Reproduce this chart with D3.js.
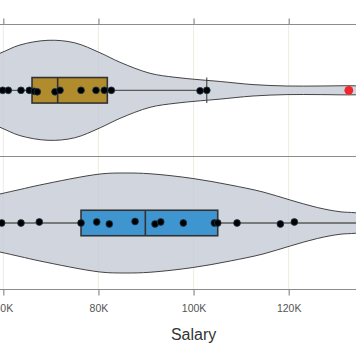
<!DOCTYPE html>
<html>
<head>
<meta charset="utf-8">
<script src="https://cdn.jsdelivr.net/npm/d3@7"></script>
<style>
html,body{margin:0;padding:0;background:#fff;}
svg{display:block;font-family:"Liberation Sans",Arial,sans-serif;}
</style>
</head>
<body>
<svg id="chart" width="356" height="364"></svg>
<script>
// ---- data ----
const groups = ["A", "B"];
const tickValues = [60000, 80000, 100000, 120000];
const tickLabels = ["60K", "80K", "100K", "120K"];
const xTitle = "Salary";

// salaries of individual people
const salariesA = [59870, 61050, 63720, 65470, 66520, 67150, 70870, 71920, 76340, 79490, 81240, 82710, 101370, 102780];
const jitterA   = [0, 0, 0, 0, 0.2, 0.3, 0.3, 0, 0, 0, 0, 0, 0.1, 0];
const outliersA = [132640];
const salariesB = [59660, 63720, 67570, 76340, 79640, 82290, 87700, 91900, 93100, 97850, 104370, 105080, 109140, 118250, 121190];
const jitterB   = [0, 0, -0.2, 0, -0.2, 0.2, -0.3, 0.2, -0.2, 0, 0, 0, 0, 0.2, -0.2];

// box statistics [lowerWhisker, q1, median, q3, upperWhisker]
const boxA = [52000, 66040, 71430, 81870, 102780];
const boxB = [52000, 76340, 89860, 105080, 140000];

// violin density profiles (salary, relative density)
const violinSalA = [40000, 48000, 54000, 59300, 63500, 69400, 75000, 80350, 84550, 90850, 96100, 101400, 105600, 112500, 119600, 126600, 134100, 140000, 146000];
const violinDenA = [0.0, 0.25, 0.55, 0.74, 0.906, 1.0, 0.95, 0.75, 0.56, 0.34, 0.26, 0.21, 0.176, 0.114, 0.086, 0.086, 0.09, 0.06, 0.0];
const violinSalB = [36000, 44000, 52000, 59300, 63500, 67700, 80350, 85600, 90850, 99900, 107700, 114600, 120300, 126000, 130800, 134100, 142000, 152000];
const violinDenB = [0.0, 0.2, 0.42, 0.58, 0.67, 0.76, 0.98, 1.0, 0.985, 0.89, 0.76, 0.62, 0.46, 0.31, 0.225, 0.205, 0.12, 0.0];

const boxColors = {A: "#b08c2c", B: "#3f95d0"};

// ---- chart ----
const svg = d3.select("#chart");
const yTop = 24.5, yBottom = 289.5, yMid = 156.5;

const x = d3.scaleLinear().domain([60000, 120000]).range([3.3, 288.7]);
const y = d3.scalePoint().domain(groups).range([90.3, 223]);
const w = d3.scaleLinear().domain([0, 1]).range([0, 50]);
const boxH = 25.5;

// gridlines
svg.append("g").selectAll("line").data(tickValues).join("line")
  .attr("x1", d => x(d)).attr("x2", d => x(d))
  .attr("y1", yTop).attr("y2", yBottom)
  .attr("stroke", "#ecece2").attr("stroke-width", 1);

const datasets = [
  {g: "A", sal: violinSalA, den: violinDenA, box: boxA, pts: salariesA, jit: jitterA, out: outliersA, cap: true},
  {g: "B", sal: violinSalB, den: violinDenB, box: boxB, pts: salariesB, jit: jitterB, out: [], cap: false}
];

datasets.forEach(ds => {
  const cy = y(ds.g);
  const prof = ds.sal.map((s, i) => [s, ds.den[i]]);
  const area = d3.area()
    .x(d => x(d[0]))
    .y0(d => cy - w(d[1]))
    .y1(d => cy + w(d[1]))
    .curve(d3.curveCatmullRom.alpha(0.5));
  svg.append("path").datum(prof)
    .attr("d", area)
    .attr("fill", "#c6cbd4").attr("fill-opacity", 0.8)
    .attr("stroke", "#444").attr("stroke-width", 1);

  const [lw, q1, med, q3, uw] = ds.box;
  // whiskers
  svg.append("line").attr("x1", x(lw)).attr("x2", x(q1)).attr("y1", cy).attr("y2", cy)
    .attr("stroke", "#5a5a5a").attr("stroke-width", 1.3);
  svg.append("line").attr("x1", x(q3)).attr("x2", x(uw)).attr("y1", cy).attr("y2", cy)
    .attr("stroke", "#5a5a5a").attr("stroke-width", 1.3);
  if (ds.cap) {
    [lw, uw].forEach(v => svg.append("line")
      .attr("x1", x(v)).attr("x2", x(v))
      .attr("y1", cy - boxH / 2).attr("y2", cy + boxH / 2)
      .attr("stroke", "#333").attr("stroke-width", 1));
  }
  // box
  svg.append("rect")
    .attr("x", x(q1)).attr("width", x(q3) - x(q1))
    .attr("y", cy - boxH / 2).attr("height", boxH)
    .attr("fill", boxColors[ds.g]).attr("stroke", "#333").attr("stroke-width", 1.6);
  svg.append("line").attr("x1", x(med)).attr("x2", x(med))
    .attr("y1", cy - boxH / 2).attr("y2", cy + boxH / 2)
    .attr("stroke", "#333").attr("stroke-width", 1.6);

  // points
  svg.append("g").selectAll("circle").data(ds.pts).join("circle")
    .attr("cx", d => x(d))
    .attr("cy", (d, i) => cy + ds.jit[i] * 5)
    .attr("r", 3.4)
    .attr("fill", "#000").attr("stroke", "#1d3a50").attr("stroke-width", 0.8);
  svg.append("g").selectAll("circle").data(ds.out).join("circle")
    .attr("cx", d => x(d)).attr("cy", cy)
    .attr("r", 4.4)
    .attr("fill", "#f0262a");
});

// panel lines
[yTop, yMid, yBottom].forEach(yy => svg.append("line")
  .attr("x1", 0).attr("x2", 356).attr("y1", yy).attr("y2", yy)
  .attr("stroke", "#8c8c8c").attr("stroke-width", 1.2));

// top ticks (no labels)
const topAxis = d3.axisTop(x).tickValues(tickValues).tickSize(6).tickFormat("");
svg.append("g").attr("transform", `translate(0,${yTop})`).call(topAxis)
  .call(g => g.select(".domain").remove())
  .call(g => g.selectAll(".tick line").attr("stroke", "#8c8c8c").attr("stroke-width", 1.2));

// bottom axis
const botAxis = d3.axisBottom(x).tickValues(tickValues).tickSize(6).tickPadding(9)
  .tickFormat((d, i) => tickLabels[i]);
svg.append("g").attr("transform", `translate(0,${yBottom})`).call(botAxis)
  .call(g => g.select(".domain").remove())
  .call(g => g.selectAll(".tick line").attr("stroke", "#8c8c8c").attr("stroke-width", 1.2))
  .call(g => g.selectAll(".tick text").attr("fill", "#555").attr("font-size", "10.5px")
    .attr("font-family", '"Liberation Sans",Arial,sans-serif'));

svg.append("text")
  .attr("x", x(100000)).attr("y", 340)
  .attr("text-anchor", "middle")
  .attr("fill", "#333").attr("font-size", "16px")
  .text(xTitle);
</script>
</body>
</html>
